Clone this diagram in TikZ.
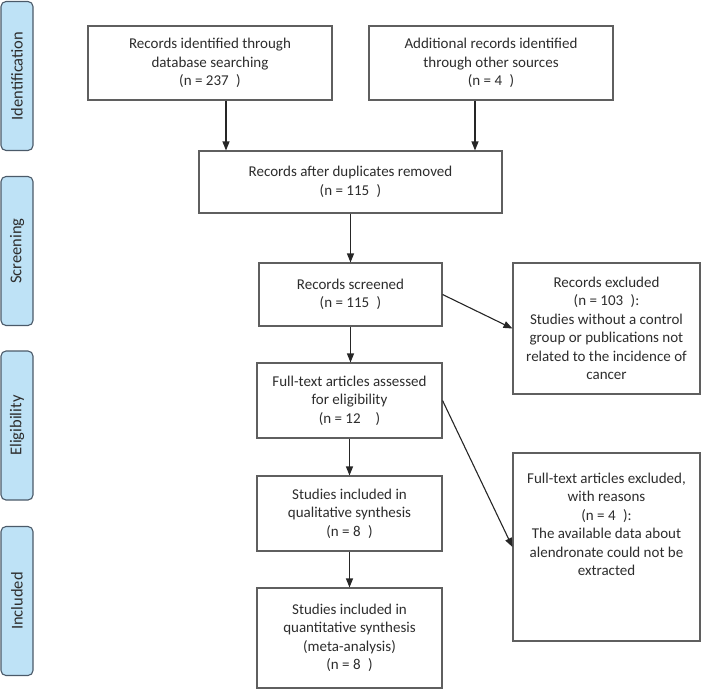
\documentclass[tikz,border=0pt]{standalone}
\usepackage{fontspec}
\setmainfont{Carlito}
\usetikzlibrary{arrows.meta}
\definecolor{phasefill}{RGB}{190,226,246}
\definecolor{phaseline}{RGB}{75,90,105}
\definecolor{boxline}{RGB}{95,95,95}
\definecolor{txt}{RGB}{45,45,45}

\begin{document}
\begin{tikzpicture}[x=1pt,y=-1pt,
    box/.style={draw=boxline, line width=1.1pt, fill=white, align=center, text=txt,
        font=\fontsize{15}{18.5}\selectfont, inner sep=0pt},
    boxtext/.style={align=center, text=txt, font=\fontsize{15}{18.5}\selectfont, inner sep=0pt},
    phase/.style={draw=phaseline, fill=phasefill, rounded corners=5pt, line width=1.1pt,
        minimum width=149pt, minimum height=32pt, rotate=90, text=txt,
        font=\fontsize{16.5}{20}\selectfont},
    arr/.style={-{Triangle[length=9pt,width=7pt]}, line width=1.1pt, color=black!85}]
    \useasboundingbox (0,0) rectangle (701,689);
    % phases on the left
    \node[phase] (ident) at (17,76) {Identification};
    \node[phase] (screen) at (17,251) {Screening};
    \node[phase] (elig) at (17,425.5) {Eligibility};
    \node[phase] (incl) at (17,601) {Included};
    % identification
    \node[box, minimum width=244pt, minimum height=74pt] (dbase) at (210,63)
        {Records identified through\\database searching\\(n = 237\enspace)};
    \node[box, minimum width=244pt, minimum height=74pt] (other) at (491,63)
        {Additional records identified\\through other sources\\(n = 4\enspace)};
    \node[box, minimum width=303pt, minimum height=62pt] (dupl) at (350.5,182)
        {Records after duplicates removed\\(n = 115\enspace)};
    % screening
    \node[box, minimum width=183pt, minimum height=63pt] (screened) at (350.5,294.5)
        {Records screened\\(n = 115\enspace)};
    \node[box, minimum width=187pt, minimum height=131pt] (excl1) at (606.5,328.5)
        {Records excluded\\(n = 103\enspace):\\Studies without a control\\group or publications not\\related to the incidence of\\cancer};
    % eligibility
    \node[box, minimum width=185pt, minimum height=75pt] (fulltext) at (349.5,400.5)
        {Full-text articles assessed\\for eligibility\\(n = 12\quad)};
    \node[box, minimum width=187pt, minimum height=188pt] (excl2) at (606.5,547) {};
    \node[boxtext] (excl2text) at ([yshift=22.5pt]excl2.center)
        {Full-text articles excluded,\\with reasons\\(n = 4\enspace):\\The available data about\\alendronate could not be\\extracted};
    % included
    \node[box, minimum width=185pt, minimum height=75pt] (quali) at (349.5,513.5)
        {Studies included in\\qualitative synthesis\\(n = 8\enspace)};
    \node[box, minimum width=185pt, minimum height=100pt] (quanti) at (349.5,638)
        {Studies included in\\quantitative synthesis\\(meta-analysis)\\(n = 8\enspace)};

    \draw[arr] ([xshift=16pt]dbase.south) -- ([xshift=16pt]dbase.south |- dupl.north);
    \draw[arr] ([xshift=-16pt]other.south) -- ([xshift=-16pt]other.south |- dupl.north);
    \draw[arr] (dupl.south) -- (dupl.south |- screened.north);
    \draw[arr] (screened.south) -- (screened.south |- fulltext.north);
    \draw[arr] (fulltext.south) -- (quali.north);
    \draw[arr] (quali.south) -- (quanti.north);
    \draw[arr] (screened.east) -- (excl1.west);
    \draw[arr] (fulltext.east) -- (excl2.west);
\end{tikzpicture}
\end{document}
